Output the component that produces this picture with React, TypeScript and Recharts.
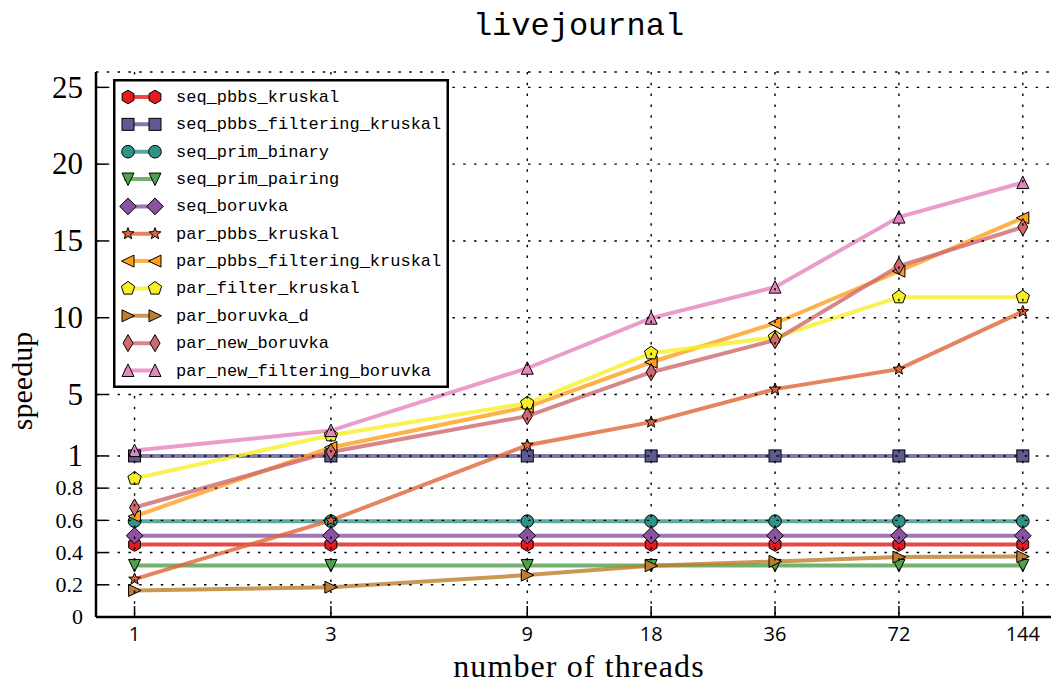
import React from 'react';
import { LineChart, Line, XAxis, YAxis, CartesianGrid, Legend } from 'recharts';

// ---------- data ----------
const threads = [1, 3, 9, 18, 36, 72, 144];

const seqPbbsKruskal = [0.45, 0.45, 0.45, 0.45, 0.45, 0.45, 0.45];
const seqPbbsFilteringKruskal = [1.0, 1.0, 1.0, 1.0, 1.0, 1.0, 1.0];
const seqPrimBinary = [0.595, 0.595, 0.595, 0.595, 0.595, 0.595, 0.595];
const seqPrimPairing = [0.32, 0.32, 0.32, 0.32, 0.32, 0.32, 0.32];
const seqBoruvka = [0.505, 0.505, 0.505, 0.505, 0.505, 0.505, 0.505];
const parPbbsKruskal = [0.235, 0.6, 1.7, 3.2, 5.35, 6.65, 10.4];
const parPbbsFilteringKruskal = [0.625, 1.55, 4.18, 7.1, 9.64, 13.03, 16.5];
const parFilterKruskal = [0.86, 2.35, 4.43, 7.69, 8.73, 11.34, 11.34];
const parBoruvkaD = [0.165, 0.185, 0.26, 0.318, 0.345, 0.372, 0.375];
const parNewBoruvka = [0.68, 1.26, 3.59, 6.45, 8.54, 13.36, 15.9];
const parNewFilteringBoruvka = [1.35, 2.65, 6.71, 9.97, 11.99, 16.55, 18.8];

const yTickValues = [0, 0.2, 0.4, 0.6, 0.8, 1, 5, 10, 15, 20, 25];
const yMax = 26;
const xDomain = [0.806, 179.3];

// ---------- piecewise y mapping (linear 0..1, compressed above 1) ----------
const K = 15.35 / 161;
const tf = (v: number) => (v <= 1 ? v : 1 + (v - 1) * K);
const inv = (t: number) => (t <= 1 + 1e-9 ? t : 1 + (t - 1) / K);

type Shape = 'h' | 's' | 'o' | 'v' | 'D' | '*' | '<' | 'p' | '>' | 'd' | '^';

const series: { key: string; values: number[]; color: string; shape: Shape }[] = [
  { key: 'seq_pbbs_kruskal', values: seqPbbsKruskal, color: '#e41a1c', shape: 'h' },
  { key: 'seq_pbbs_filtering_kruskal', values: seqPbbsFilteringKruskal, color: '#5e5a92', shape: 's' },
  { key: 'seq_prim_binary', values: seqPrimBinary, color: '#2f9487', shape: 'o' },
  { key: 'seq_prim_pairing', values: seqPrimPairing, color: '#4e9f4e', shape: 'v' },
  { key: 'seq_boruvka', values: seqBoruvka, color: '#8b52a1', shape: 'D' },
  { key: 'par_pbbs_kruskal', values: parPbbsKruskal, color: '#de6536', shape: '*' },
  { key: 'par_pbbs_filtering_kruskal', values: parPbbsFilteringKruskal, color: '#ff9f1c', shape: '<' },
  { key: 'par_filter_kruskal', values: parFilterKruskal, color: '#f7ef26', shape: 'p' },
  { key: 'par_boruvka_d', values: parBoruvkaD, color: '#bd7d2b', shape: '>' },
  { key: 'par_new_boruvka', values: parNewBoruvka, color: '#d0686e', shape: 'd' },
  { key: 'par_new_filtering_boruvka', values: parNewFilteringBoruvka, color: '#e585bf', shape: '^' },
];

const data = threads.map((t, i) => {
  const row: Record<string, number> = { threads: t };
  series.forEach((s) => {
    row[s.key] = tf(s.values[i]);
  });
  return row;
});

const yTicks = yTickValues.map(tf);
const yTop = tf(yMax);

// ---------- markers ----------
const poly = (pts: number[][]) => pts.map((p) => p.join(',')).join(' ');
const regular = (n: number, r: number, cx: number, cy: number, rot = -90) =>
  Array.from({ length: n }, (_, k) => {
    const a = ((rot + (360 / n) * k) * Math.PI) / 180;
    return [cx + r * Math.cos(a), cy + r * Math.sin(a)];
  });

function Marker({ shape, cx, cy, color }: { shape: Shape; cx: number; cy: number; color: string }) {
  const common = { fill: color, stroke: '#000', strokeWidth: 1 };
  const r = 6;
  switch (shape) {
    case 'o':
      return <circle cx={cx} cy={cy} r={6.3} {...common} />;
    case 's':
      return <rect x={cx - 6} y={cy - 6} width={12} height={12} {...common} />;
    case 'h':
      return <polygon points={poly(regular(6, 6.8, cx, cy, -90))} {...common} />;
    case 'p':
      return <polygon points={poly(regular(5, 7, cx, cy, -90))} {...common} />;
    case '^':
      return <polygon points={poly([[cx, cy - r - 0.5], [cx + r, cy + r], [cx - r, cy + r]])} {...common} />;
    case 'v':
      return <polygon points={poly([[cx, cy + r + 0.5], [cx + r, cy - r], [cx - r, cy - r]])} {...common} />;
    case '<':
      return <polygon points={poly([[cx - r - 0.5, cy], [cx + r, cy - r], [cx + r, cy + r]])} {...common} />;
    case '>':
      return <polygon points={poly([[cx + r + 0.5, cy], [cx - r, cy - r], [cx - r, cy + r]])} {...common} />;
    case 'D':
      return <polygon points={poly([[cx, cy - 8.3], [cx + 8.3, cy], [cx, cy + 8.3], [cx - 8.3, cy]])} {...common} />;
    case 'd':
      return <polygon points={poly([[cx, cy - 8.5], [cx + 5, cy], [cx, cy + 8.5], [cx - 5, cy]])} {...common} />;
    case '*': {
      const pts: number[][] = [];
      for (let k = 0; k < 10; k++) {
        const rr = k % 2 === 0 ? 6.2 : 2.6;
        const a = ((-90 + 36 * k) * Math.PI) / 180;
        pts.push([cx + rr * Math.cos(a), cy + rr * Math.sin(a)]);
      }
      return <polygon points={poly(pts)} {...common} />;
    }
    default:
      return null;
  }
}

// ---------- ticks / legend ----------
const YTick = (props: any) => {
  const { x, y, payload } = props;
  const v = Math.round(inv(payload.value) * 10) / 10;
  const big = v >= 1;
  const label = v >= 1 ? String(Math.round(v)) : v === 0 ? '0' : v.toFixed(1);
  const fs = big ? 31 : 22;
  return (
    <text x={x} y={y} dy={fs * 0.33} textAnchor="end" fontFamily="'Liberation Serif', serif" fontSize={fs} fill="#000">
      {label}
    </text>
  );
};

const renderLegend = () => (
  <svg width={336} height={309} style={{ display: 'block' }}>
    <rect x={1.25} y={1.25} width={333.5} height={306.5} fill="#fff" stroke="#000" strokeWidth={2.5} />
    {series.map((s, i) => {
      const y = 18 + i * 27.35;
      return (
        <g key={s.key}>
          <line x1={11} x2={44} y1={y} y2={y} stroke={s.color} strokeWidth={4} strokeOpacity={0.8} />
          <Marker shape={s.shape} cx={15} cy={y} color={s.color} />
          <Marker shape={s.shape} cx={42} cy={y} color={s.color} />
          <text x={63} y={y + 5} fontFamily="'Liberation Mono', monospace" fontSize={17} fill="#000">
            {s.key}
          </text>
        </g>
      );
    })}
  </svg>
);

const axisLine = { stroke: '#000', strokeWidth: 2.5 };
const tickLine = { stroke: '#000', strokeWidth: 1.5 };

export default function App() {
  return (
    <div style={{ position: 'relative', margin: -8, width: 1059, height: 688, overflow: 'hidden', background: '#fff' }}>
      <svg width={1059} height={688} style={{ position: 'absolute', left: 0, top: 0, pointerEvents: 'none' }}>
        <text x={578.5} y={35} textAnchor="middle" fontFamily="'Liberation Mono', monospace" fontSize={32} fill="#000">
          livejournal
        </text>
        <text
          transform="translate(32, 381) rotate(-90)"
          textAnchor="middle"
          fontFamily="'Liberation Serif', serif"
          fontSize={30}
          fill="#000"
        >
          speedup
        </text>
      </svg>
      <LineChart
        width={1062}
        height={688}
        data={data}
        margin={{ top: 72, right: 0, bottom: 0, left: 0 }}
        style={{ position: 'absolute', left: 0, top: 0 }}
      >
        <XAxis
          dataKey="threads"
          type="number"
          scale="log"
          domain={xDomain}
          allowDataOverflow
          ticks={threads}
          interval={0}
          height={71}
          tickSize={-11}
          tickMargin={21}
          axisLine={axisLine}
          tickLine={tickLine}
          tick={{ fontFamily: "'Open Sans', sans-serif", fontSize: 20, fill: '#000' }}
          label={{
            value: 'number of threads',
            position: 'insideBottom',
            offset: 11,
            style: { fontFamily: "'Liberation Serif', serif", fontSize: 32, letterSpacing: 1.1, fill: '#000' },
          }}
        />
        <XAxis
          xAxisId="top"
          orientation="top"
          dataKey="threads"
          type="number"
          scale="log"
          domain={xDomain}
          allowDataOverflow
          ticks={threads}
          interval={0}
          height={0}
          tickSize={-11}
          axisLine={axisLine}
          tickLine={tickLine}
          tick={false}
        />
        <YAxis
          type="number"
          domain={[0, yTop]}
          allowDataOverflow
          ticks={yTicks}
          interval={0}
          width={96}
          tickSize={-11}
          tickMargin={24}
          axisLine={axisLine}
          tickLine={tickLine}
          tick={<YTick />}
        />
        <YAxis
          yAxisId="right"
          orientation="right"
          type="number"
          domain={[0, yTop]}
          allowDataOverflow
          ticks={yTicks}
          interval={0}
          width={0}
          tickSize={-11}
          axisLine={axisLine}
          tickLine={tickLine}
          tick={false}
        />
        {series.map((s) => (
          <Line
            key={s.key}
            type="linear"
            dataKey={s.key}
            stroke={s.color}
            strokeWidth={4}
            strokeOpacity={0.8}
            isAnimationActive={false}
            activeDot={false}
            dot={(p: any) => (
              <Marker key={`${s.key}-${p.index}`} shape={s.shape} cx={p.cx} cy={p.cy} color={s.color} />
            )}
          />
        ))}
        <CartesianGrid stroke="#000" strokeWidth={1.4} strokeDasharray="2.5 8.3" zIndex={1000} />
        <Legend
          content={renderLegend}
          layout="vertical"
          align="center"
          verticalAlign="middle"
          wrapperStyle={{ left: 113, top: 79, width: 336, height: 309 }}
        />
      </LineChart>
    </div>
  );
}
